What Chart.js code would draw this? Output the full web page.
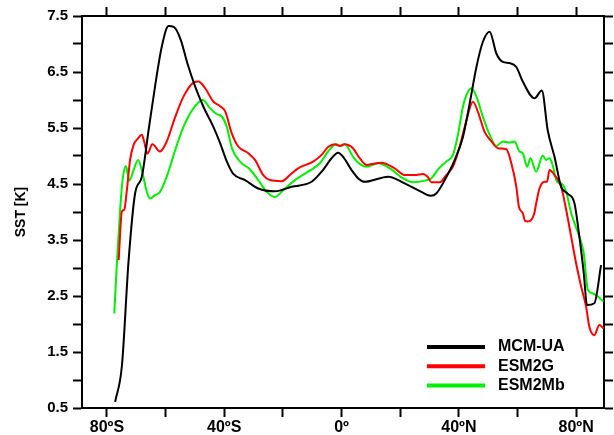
<!DOCTYPE html>
<html>
<head>
<meta charset="utf-8">
<script src="https://cdn.jsdelivr.net/npm/chart.js@4/dist/chart.umd.min.js"></script>
<style>
  body { margin: 0; background: #fff; }
  #wrap { width: 614px; height: 435px; }
</style>
</head>
<body>
<div id="wrap"><canvas id="sst" width="614" height="435"></canvas></div>
<script>
'use strict';

// series (latitude in deg, SST in K)
const MCM_LAT = [-77.2, -74.9, -72.6, -70.4, -68.1, -65.8, -63.6, -61.3, -59.0, -57.1, -54.8, -52.6,
  -49.9, -47.1, -43.7, -41.4, -39.1, -36.9, -32.9, -28.4, -22.7, -17.0, -10.2, -6.3, -3.4, -1.2,
  0.5, 3.4, 5.7, 7.9, 15.9, 21.5, 27.2, 30.4, 32.3, 35.2, 38.6, 41.4, 43.7, 46.0, 48.2, 50.5,
  52.8, 55.0, 57.3, 59.6, 61.8, 65.8, 68.3, 70.3, 72.6, 74.9, 77.1, 79.4, 81.1, 82.6, 83.7, 86.2, 88.5];
const MCM_SST = [0.61, 1.25, 3.14, 4.33, 4.63, 5.46, 6.24, 6.95, 7.32, 7.30, 7.07, 6.66,
  6.24, 5.88, 5.52, 5.23, 4.90, 4.68, 4.57, 4.42, 4.37, 4.45, 4.54, 4.75, 4.96, 5.06,
  4.99, 4.75, 4.60, 4.54, 4.63, 4.51, 4.36, 4.29, 4.33, 4.57, 4.93, 5.34, 5.94, 6.59, 7.04, 7.22,
  6.83, 6.68, 6.66, 6.59, 6.33, 6.03, 6.17, 5.46, 4.99, 4.45, 4.33, 4.16, 3.56, 2.91, 2.34, 2.37, 3.05];

const ESM2G_LAT = [-76.0, -74.9, -74.1, -73.2, -72.1, -70.9, -69.6, -68.1, -67.3, -66.2, -64.5, -61.9,
  -59.6, -56.7, -53.9, -50.5, -48.8, -46.5, -43.7, -41.4, -39.7, -37.4, -35.2, -31.8, -29.5, -26.7,
  -24.4, -20.4, -17.6, -14.8, -9.7, -6.8, -4.6, -2.3, -0.6, 0.9, 3.9, 6.2, 8.5, 13.6, 18.1, 21.5,
  25.0, 27.8, 29.5, 30.6, 33.5, 35.7, 38.0, 40.3, 42.6, 44.8, 46.5, 48.8, 51.1, 53.3, 56.2, 57.9,
  59.6, 60.5, 61.8, 62.6, 63.5, 65.6, 66.4, 67.5, 69.2, 70.1, 70.9, 72.6, 74.9, 76.6, 78.3, 80.0,
  81.7, 83.4, 84.5, 86.2, 87.9, 89.4];
const ESM2G_SST = [3.14, 4.01, 4.04, 4.39, 4.93, 5.20, 5.30, 5.38, 5.26, 5.04, 5.21, 5.08,
  5.26, 5.70, 6.06, 6.31, 6.33, 6.21, 5.97, 5.89, 5.80, 5.40, 5.17, 5.05, 4.93, 4.66,
  4.57, 4.55, 4.66, 4.78, 4.90, 5.02, 5.16, 5.21, 5.18, 5.21, 5.14, 4.96, 4.84, 4.88, 4.78, 4.66,
  4.66, 4.68, 4.62, 4.53, 4.53, 4.66, 4.81, 5.17, 5.64, 5.97, 5.79, 5.43, 5.26, 5.14, 5.12, 4.87,
  4.45, 4.09, 3.98, 3.84, 3.83, 3.95, 4.16, 4.42, 4.54, 4.54, 4.75, 4.66, 4.45, 4.04, 3.56, 3.08,
  2.67, 2.31, 1.95, 1.80, 1.98, 1.92];

const ESM2MB_LAT = [-77.5, -76.6, -75.5, -74.6, -73.5, -72.4, -70.9, -69.4, -68.1, -66.4, -65.3, -63.6,
  -61.9, -59.6, -56.7, -53.9, -50.5, -47.3, -44.8, -42.6, -40.9, -39.1, -37.4, -34.6, -31.2, -28.4,
  -25.5, -22.7, -19.9, -15.9, -11.4, -7.4, -4.6, -1.7, -0.2, 1.1, 3.9, 6.2, 8.5, 12.5, 17.0, 20.4,
  24.4, 28.4, 30.6, 32.9, 35.7, 38.0, 39.7, 41.4, 42.6, 44.3, 46.0, 48.2, 50.5, 52.8, 55.0, 57.3,
  59.0, 60.7, 61.8, 63.3, 64.4, 66.4, 68.6, 69.8, 70.9, 71.8, 73.5, 74.9, 76.6, 78.3, 81.1, 82.6,
  84.0, 85.6, 87.4, 89.3];
const ESM2MB_SST = [2.19, 3.08, 4.04, 4.60, 4.82, 4.56, 4.75, 4.93, 4.75, 4.36, 4.24, 4.30,
  4.36, 4.63, 5.11, 5.52, 5.85, 6.00, 5.85, 5.75, 5.71, 5.52, 5.14, 4.90, 4.76, 4.57,
  4.36, 4.27, 4.39, 4.57, 4.72, 4.87, 5.08, 5.21, 5.18, 5.21, 4.99, 4.86, 4.81, 4.87, 4.76, 4.62,
  4.53, 4.56, 4.60, 4.76, 4.90, 5.02, 5.38, 5.88, 6.09, 6.21, 6.06, 5.70, 5.38, 5.18, 5.26, 5.24,
  5.26, 5.08, 5.05, 4.81, 4.96, 4.72, 5.01, 4.93, 4.96, 4.87, 4.54, 4.51, 4.36, 3.98, 3.56, 3.26,
  2.61, 2.55, 2.49, 2.40];

const SERIES_NAMES = ['MCM-UA', 'ESM2G', 'ESM2Mb'];
const SERIES_COLORS = ['#000000', '#ff0000', '#00ee00'];

const LAT_TICKS = [-80, -60, -40, -20, 0, 20, 40, 60, 80];
const LAT_MIN = -88.5, LAT_MAX = 89.5;
const SST_MIN = 0.5, SST_MAX = 7.5;

const FONT = '"Liberation Sans", Arial, sans-serif';

function toPoints(lat, sst) {
  return lat.map(function (x, i) { return { x: x, y: sst[i] }; });
}

function latLabel(v) {
  if (v % 40 !== 0) return '';
  if (v === 0) return '0º';
  return Math.abs(v) + 'º' + (v < 0 ? 'S' : 'N');
}

function sstLabel(v) {
  return Math.abs(v % 1 - 0.5) < 1e-6 ? v.toFixed(1) : '';
}

function setLatTicks(scale) {
  scale.ticks = LAT_TICKS.map(function (v) { return { value: v }; });
}

// frame axis: black border, outward ticks, nothing drawn inside the plot
function frameAxis(pos, extra) {
  const base = {
    type: 'linear',
    position: pos,
    grid: { drawOnChartArea: false, drawTicks: true, tickLength: 9, tickWidth: 2, color: '#000' },
    border: { display: true, color: '#000', width: 2 }
  };
  return Object.assign(base, extra);
}

// legend in the lower right corner of the plot
const cornerLegend = {
  id: 'cornerLegend',
  afterDatasetsDraw(chart) {
    const ctx = chart.ctx, area = chart.chartArea;
    const x0 = area.right - 177, x1 = area.right - 119, tx = area.right - 106;
    ctx.save();
    ctx.font = 'bold 16px ' + FONT;
    ctx.textBaseline = 'middle';
    chart.data.datasets.forEach(function (ds, i) {
      const y = area.bottom - 61 + i * 19.2;
      ctx.strokeStyle = ds.borderColor;
      ctx.lineWidth = 4;
      ctx.beginPath();
      ctx.moveTo(x0, y);
      ctx.lineTo(x1, y);
      ctx.stroke();
      ctx.fillStyle = '#000';
      ctx.fillText(ds.label, tx, y);
    });
    ctx.restore();
  }
};

const lats = [MCM_LAT, ESM2G_LAT, ESM2MB_LAT];
const ssts = [MCM_SST, ESM2G_SST, ESM2MB_SST];

new Chart(document.getElementById('sst'), {
  type: 'line',
  data: {
    datasets: SERIES_NAMES.map(function (name, i) {
      return {
        label: name,
        data: toPoints(lats[i], ssts[i]),
        borderColor: SERIES_COLORS[i],
        backgroundColor: SERIES_COLORS[i],
        borderWidth: 2,
        pointRadius: 0,
        fill: false,
        cubicInterpolationMode: 'monotone',
        xAxisID: 'x',
        yAxisID: 'y'
      };
    })
  },
  options: {
    responsive: false,
    devicePixelRatio: 1,
    animation: false,
    layout: { padding: 0 },
    plugins: { legend: { display: false }, tooltip: { enabled: false } },
    scales: {
      x: frameAxis('bottom', {
        min: LAT_MIN, max: LAT_MAX,
        afterBuildTicks: setLatTicks,
        afterFit: function (s) { s.height = 27; },
        ticks: { callback: latLabel, autoSkip: false, maxRotation: 0, padding: 1, color: '#000',
          font: { family: FONT, size: 16, weight: 'bold' } }
      }),
      xTop: frameAxis('top', {
        min: LAT_MIN, max: LAT_MAX,
        afterBuildTicks: setLatTicks,
        afterFit: function (s) { s.height = 16; },
        ticks: { display: false }
      }),
      y: frameAxis('left', {
        min: SST_MIN, max: SST_MAX,
        afterFit: function (s) { s.width = 82; },
        ticks: { stepSize: 0.5, callback: sstLabel, autoSkip: false, padding: 5, color: '#000',
          font: { family: FONT, size: 15, weight: 'bold' } },
        title: { display: true, text: 'SST [K]', color: '#000', padding: { top: 13, bottom: 0 },
          font: { family: FONT, size: 14, weight: 'bold' } }
      }),
      yRight: frameAxis('right', {
        min: SST_MIN, max: SST_MAX,
        afterFit: function (s) { s.width = 10; },
        ticks: { stepSize: 0.5, display: false }
      })
    }
  },
  plugins: [cornerLegend]
});
</script>
</body>
</html>
